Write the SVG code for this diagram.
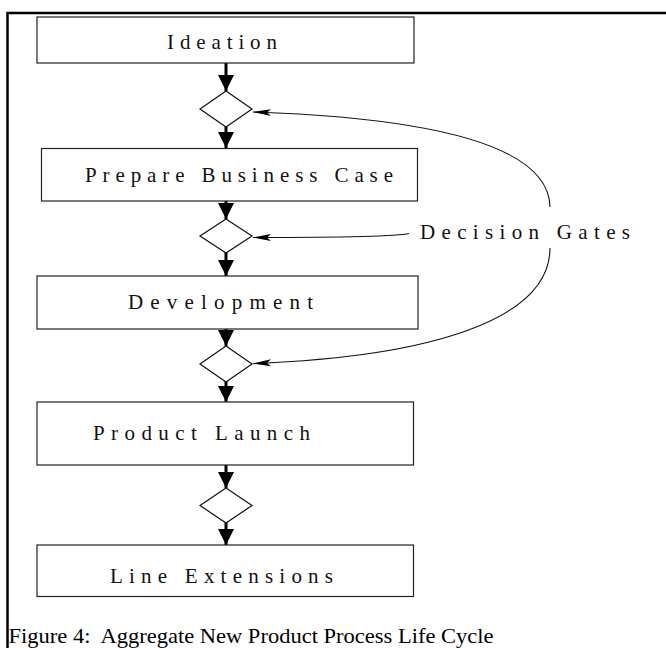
<svg xmlns="http://www.w3.org/2000/svg" width="666" height="648" viewBox="0 0 666 648">
  <defs>
    <style>
      .box { fill: #ffffff; stroke: #222222; stroke-width: 1.2; }
      .gate { fill: #ffffff; stroke: #111111; stroke-width: 1.2; }
      .label { font-family: "Liberation Serif", "Times New Roman", serif; font-size: 21px; fill: #111111; }
      .flow { stroke: #000000; stroke-width: 3; fill: none; marker-end: url(#bigHead); }
      .pointer { stroke: #111111; stroke-width: 1.1; fill: none; marker-end: url(#thinHead); }
      .caption { font-family: "Liberation Serif", "Times New Roman", serif; font-size: 21px; fill: #000000; white-space: pre; }
    </style>
    <marker id="bigHead" markerUnits="userSpaceOnUse" viewBox="0 0 16 16" refX="16" refY="8" markerWidth="16" markerHeight="16" orient="auto">
      <path d="M0,0 L16,8 L0,16 z" fill="#000000"/>
    </marker>
    <marker id="thinHead" markerUnits="userSpaceOnUse" viewBox="0 0 18 8" refX="18" refY="4" markerWidth="18" markerHeight="8" orient="auto">
      <path d="M0,0.5 L18,4 L0,7.5 L4,4 z" fill="#000000"/>
    </marker>
  </defs>

  <rect x="0" y="0" width="666" height="648" fill="#ffffff"/>

  <!-- outer frame (left and top edges) -->
  <path d="M7.5,652 V13 H670" fill="none" stroke="#000000" stroke-width="2.5"/>

  <!-- connectors -->
  <g id="connectors">
    <line class="flow" x1="226" y1="63" x2="226" y2="91"/>
    <line class="flow" x1="226" y1="121" x2="226" y2="148"/>
    <line class="flow" x1="226" y1="201" x2="226" y2="219"/>
    <line class="flow" x1="226" y1="249" x2="226" y2="276"/>
    <line class="flow" x1="226" y1="329" x2="226" y2="346"/>
    <line class="flow" x1="226" y1="377" x2="226" y2="402"/>
    <line class="flow" x1="226" y1="465" x2="226" y2="488"/>
    <line class="flow" x1="226" y1="518" x2="226" y2="545"/>

    <path class="pointer" d="M550,207 C549,145 430,118 253,112"/>
    <path class="pointer" d="M409,233.5 C395,237 330,237.5 253,237.5"/>
    <path class="pointer" d="M550,248 C550,320 430,357 253,363.5"/>
  </g>

  <g id="ideation">
    <rect class="box" x="37" y="17" width="377" height="46"/>
    <text class="label" x="167" y="49" textLength="110" lengthAdjust="spacing">Ideation</text>
  </g>

  <g id="gate1">
    <polygon class="gate" points="226,91 252,109 226,127 200,109"/>
  </g>

  <g id="business-case">
    <rect class="box" x="41.5" y="148.5" width="376" height="52.5"/>
    <text class="label" x="85" y="182" textLength="308" lengthAdjust="spacing">Prepare Business Case</text>
  </g>

  <g id="gate2">
    <polygon class="gate" points="226,219 252,236 226,253 200,236"/>
  </g>

  <g id="development">
    <rect class="box" x="37" y="276" width="381" height="53"/>
    <text class="label" x="128" y="309" textLength="185" lengthAdjust="spacing">Development</text>
  </g>

  <g id="gate3">
    <polygon class="gate" points="226,346 252,364 226,382 200,364"/>
  </g>

  <g id="product-launch">
    <rect class="box" x="37" y="402" width="376.5" height="63"/>
    <text class="label" x="93" y="440" textLength="217" lengthAdjust="spacing">Product Launch</text>
  </g>

  <g id="gate4">
    <polygon class="gate" points="226,488 252,505.5 226,523 200,505.5"/>
  </g>

  <g id="line-extensions">
    <rect class="box" x="37" y="545" width="376.5" height="51.5"/>
    <text class="label" x="110" y="583" textLength="223" lengthAdjust="spacing">Line Extensions</text>
  </g>

  <g id="decision-gates-label">
    <text class="label" x="420" y="239" textLength="210" lengthAdjust="spacing">Decision Gates</text>
  </g>

  <text class="caption" x="8.5" y="642.5" xml:space="preserve" textLength="485" lengthAdjust="spacingAndGlyphs">Figure 4:  Aggregate New Product Process Life Cycle</text>
</svg>
